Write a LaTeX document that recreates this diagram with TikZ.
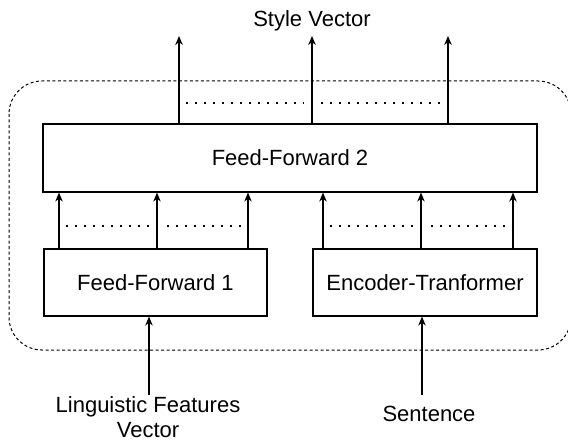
\documentclass[tikz,border=0pt]{standalone}
\usepackage{fontspec}
\setmainfont{Liberation Sans}
\usetikzlibrary{arrows.meta}

\tikzset{
  caja/.style={draw, line width=1.2pt, inner sep=0pt},
  flecha/.style={line width=1.2pt, -{Stealth[length=9pt,width=7.5pt]}},
  puntos/.style={line width=2pt, dash pattern=on 2pt off 7pt},
  grupo/.style={line width=1pt, dash pattern=on 3pt off 2.5pt, rounded corners=33pt}
}

\begin{document}
\begin{tikzpicture}[x=1pt,y=-1pt,font=\fontsize{22}{25}\selectfont]
        % Paso 1: Fija el marco del dibujo
        \useasboundingbox (0,0) rectangle (568,441);

        % Paso 2: Bloque punteado que agrupa las redes
        \draw[grupo] (9,81) rectangle (571,350);

        % Paso 3: Define las tres cajas
        \node[caja, minimum width=494pt, minimum height=68pt] (ff2) at (290,158) {Feed-Forward 2};
        \node[caja, minimum width=223pt, minimum height=67pt] (ff1) at (155.5,282.5) {Feed-Forward 1};
        \node[caja, minimum width=224pt, minimum height=67pt] (enc) at (425,282.5) {Encoder-Tranformer};

        % Paso 4: Textos de entrada y salida
        \node (estilo) at (312,21) {Style Vector};
        \node[align=center, inner sep=0pt] (rasgos) at (148,417) {Linguistic Features\\Vector};
        \node (frase) at (429,414) {Sentence};

        % Paso 5: Flechas de salida hacia el vector de estilo
        \foreach \x in {179,312,448}
            \draw[flecha] (ff2.north -| \x,0) -- (\x,36);

        % Paso 6: Flechas de FF1 y del codificador hacia FF2
        \foreach \x in {59,157,248}
            \draw[flecha] (ff1.north -| \x,0) -- (ff2.south -| \x,0);
        \foreach \x in {323,421,513}
            \draw[flecha] (enc.north -| \x,0) -- (ff2.south -| \x,0);

        % Paso 7: Flechas de entrada
        \coordinate (r-in) at (149,395);
        \coordinate (f-in) at (422,395);
        \draw[flecha] (r-in) -- (r-in |- ff1.south);
        \draw[flecha] (f-in) -- (f-in |- enc.south);

        % Paso 8: Lineas de puntos entre flechas
        \draw[puntos] (186,103) -- (304,103);
        \draw[puntos] (321,103) -- (440,103);
        \draw[puntos] (66,226) -- (149,226);
        \draw[puntos] (167,226) -- (241,226);
        \draw[puntos] (330,226) -- (415,226);
        \draw[puntos] (431,226) -- (506,226);
    \end{tikzpicture}
\end{document}
